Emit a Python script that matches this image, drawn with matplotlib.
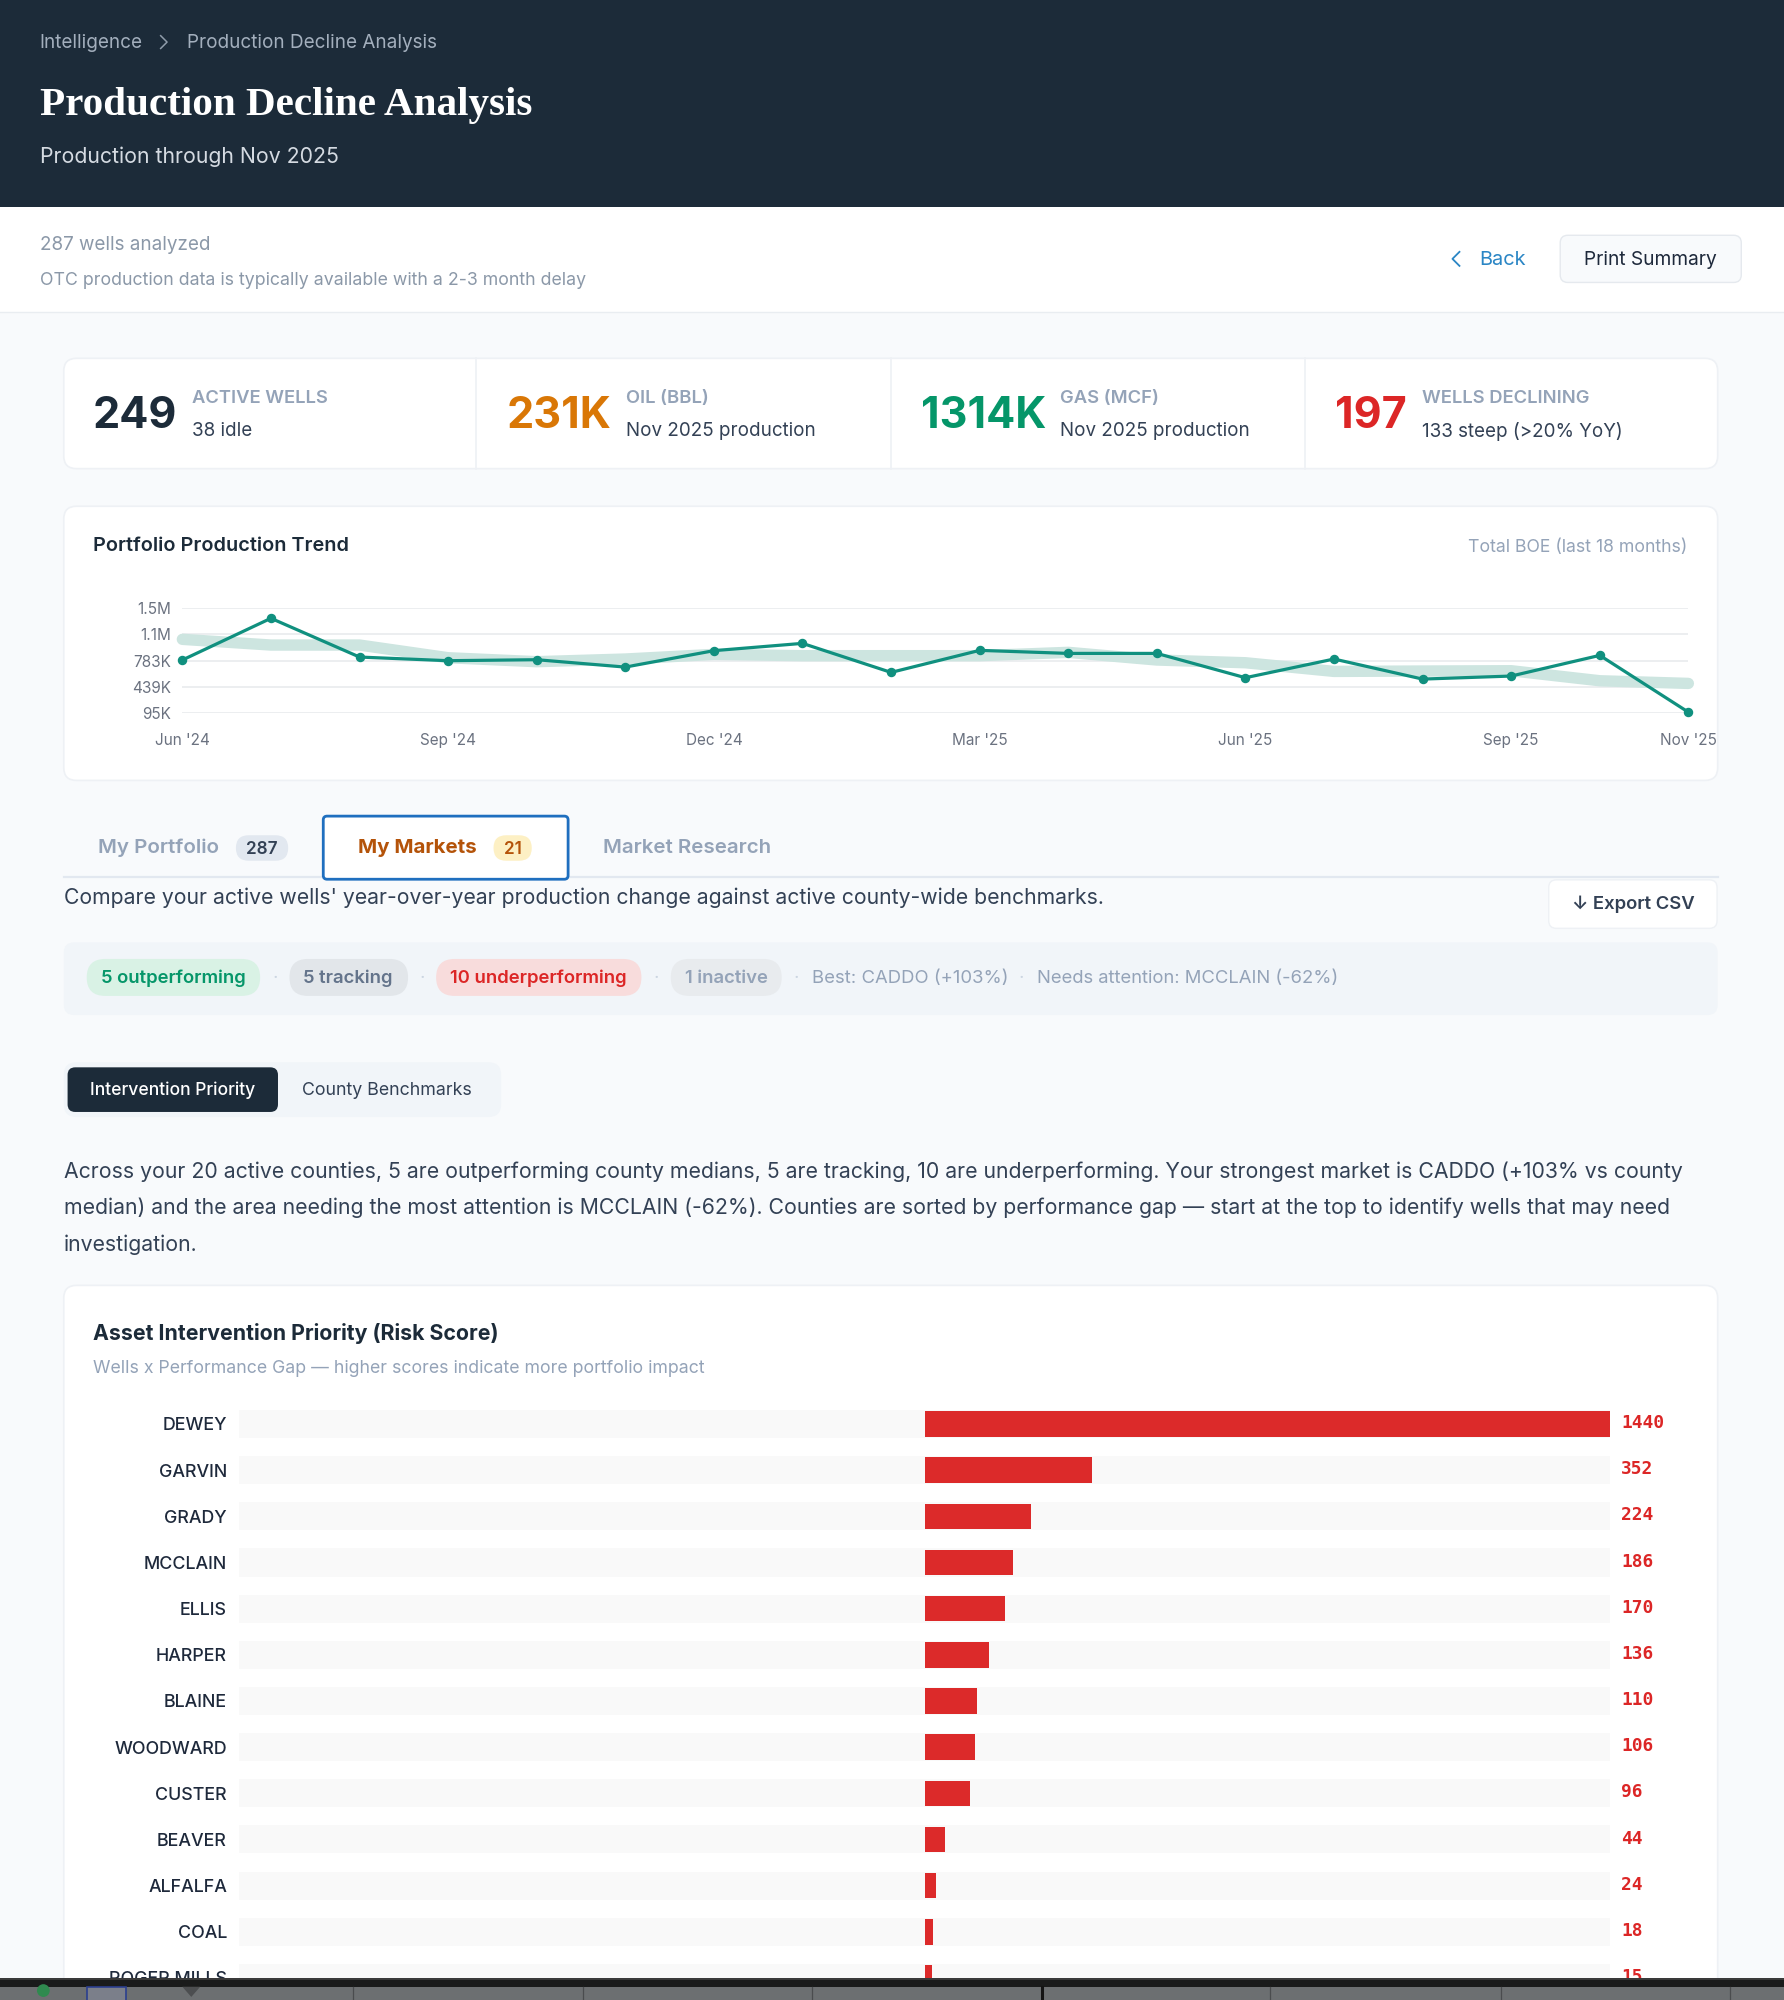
import matplotlib
matplotlib.use("Agg")
import matplotlib.pyplot as plt
from matplotlib.patches import FancyBboxPatch, Rectangle, Polygon, Circle

W, H = 1399.0, 1568.4
S = 1784 / W

months = ["Jun '24", "Jul '24", "Aug '24", "Sep '24", "Oct '24", "Nov '24", "Dec '24", "Jan '25", "Feb '25",
          "Mar '25", "Apr '25", "May '25", "Jun '25", "Jul '25", "Aug '25", "Sep '25", "Oct '25", "Nov '25"]
total_boe = [790, 1339, 829, 781, 794, 697, 913, 1009, 627, 917, 877, 877, 557, 803, 539, 579, 851, 104]
trend_boe = [1062, 987, 987, 820, 768, 803, 864, 847, 847, 847, 891, 790, 754, 640, 645, 649, 517, 482]
y_tick_vals = [95, 439, 783, 1127, 1471]
y_tick_labels = ["95K", "439K", "783K", "1.1M", "1.5M"]
x_tick_idx = [0, 3, 6, 9, 12, 15, 17]

counties = ["DEWEY", "GARVIN", "GRADY", "MCCLAIN", "ELLIS", "HARPER", "BLAINE", "WOODWARD",
            "CUSTER", "BEAVER", "ALFALFA", "COAL", "ROGER MILLS"]
risk = [1440, 352, 224, 186, 170, 136, 110, 106, 96, 44, 24, 18, 15]

kpi_values = ["249", "231K", "1314K", "197"]
kpi_labels = ["ACTIVE WELLS", "OIL (BBL)", "GAS (MCF)", "WELLS DECLINING"]
kpi_notes = ["38 idle", "Nov 2025 production", "Nov 2025 production", "133 steep (>20% YoY)"]

plt.rcParams['font.family'] = ['Inter', 'DejaVu Sans']
fig = plt.figure(figsize=(17.84, 20.0), dpi=100, facecolor="#f8fafc")


def axes_at(x0, y0, x1, y1, **kw):
    return fig.add_axes([x0 / W, 1 - y1 / H, (x1 - x0) / W, (y1 - y0) / H], **kw)


base = axes_at(0, 0, W, H)
base.set_xlim(0, W)
base.set_ylim(H, 0)
base.axis("off")
base.set_zorder(0)


def fs(px):
    return px * S * 0.72


def T(x, y, s, px, color="#1e293b", weight="normal", ha="left", ax=base, family=None, zorder=5):
    kw = {}
    if family:
        kw["family"] = family
    return ax.text(x, y + 2, s, fontsize=fs(px), color=color, fontweight=weight, ha=ha, va="center", zorder=zorder, **kw)


def RR(x, y, w, h, r, fc, ec="none", lw=0.0, ax=base, zorder=1):
    p = FancyBboxPatch((x + r, y + r), w - 2 * r, h - 2 * r, boxstyle=f"round,pad={r},rounding_size={r}",
                       fc=fc, ec=ec, lw=lw, zorder=zorder)
    ax.add_patch(p)
    return p


# header
base.add_patch(Rectangle((0, 0), W, 162.5, fc="#1c2b39", ec="none"))
T(31, 32, "Intelligence", 14.85, "#a3afbd")
base.plot([126, 131, 126], [28, 33, 38], color="#8f9caa", lw=1.1, zorder=5)
T(146.5, 32, "Production Decline Analysis", 14.85, "#a3afbd")
T(31, 81, "Production Decline Analysis", 32.3, "#ffffff", "bold", family="Liberation Serif")
T(31, 121, "Production through Nov 2025", 16.65, "#d5dbe2")

# subheader
base.add_patch(Rectangle((0, 162.5), W, 82, fc="#ffffff", ec="none"))
base.plot([0, W], [244.5, 244.5], color="#e9edf1", lw=1.0)
T(31, 190, "287 wells analyzed", 14.8, "#8b98a8")
T(31, 218, "OTC production data is typically available with a 2-3 month delay", 13.9, "#8b98a8")
base.plot([1144.5, 1139, 1144.5], [197.5, 203, 208.5], color="#2b86c5", lw=1.3, zorder=5)
T(1160, 202, "Back", 15.7, "#2b86c5")
RR(1223.5, 184.5, 142, 37, 6, "#f8fafc", "#e5e9ee", 1.0)
T(1294.5, 202, "Print Summary", 15, "#1e293b", ha="center")

# KPI card
RR(50, 281, 1297, 86.5, 10, "#ffffff", "#eef1f5", 1.2)
for xd in [373.5, 698.5, 1023]:
    base.plot([xd, xd], [281, 367.5], color="#eef1f5", lw=1.2, zorder=2)
kpi_x = [73, 397.5, 722, 1047]
kpi_lx = [150.5, 491, 831, 1115]
kpi_col = ["#1c2b39", "#d97706", "#059669", "#dc2626"]
for vx, lx, c, v, l, n in zip(kpi_x, kpi_lx, kpi_col, kpi_values, kpi_labels, kpi_notes):
    T(vx, 325, v, 33.8, c, "bold")
    T(lx, 310.5, l, 14.45, "#94a3b8", "semibold")
    T(lx, 336, n, 14.75, "#334155")

# trend card
RR(50, 397, 1297, 215, 10, "#ffffff", "#eef1f5", 1.2)
T(73, 426, "Portfolio Production Trend", 15.6, "#1c2b39", "semibold")
T(1323, 427, "Total BOE (last 18 months)", 13.85, "#94a3b8", ha="right")

ax = axes_at(143, 477, 1324, 559)
ax.patch.set_alpha(0)
ax.set_zorder(2)
xs = list(range(len(months)))
ax.set_xlim(0, len(months) - 1)
ax.set_ylim(95, 1471)
for sp in ax.spines.values():
    sp.set_visible(False)
ax.set_yticks(y_tick_vals)
ax.set_yticklabels(y_tick_labels)
ax.set_xticks(x_tick_idx)
ax.set_xticklabels([months[i] for i in x_tick_idx])
ax.tick_params(axis="both", length=0, labelsize=fs(12), labelcolor="#6b7280")
ax.tick_params(axis="y", pad=fs(9))
ax.tick_params(axis="x", pad=fs(16))
ax.grid(axis="y", color="#e9ebee", lw=1.2)
ax.set_axisbelow(True)
ax.plot(xs, trend_boe, color="#cde5e0", lw=8.2, solid_capstyle="round", solid_joinstyle="round", clip_on=False, zorder=2)
ax.plot(xs, total_boe, color="#10907f", lw=2.3, marker="o", ms=5.8, clip_on=False, zorder=3)

# tabs
base.plot([50, 1347], [688, 688], color="#e2e8f0", lw=1.6, zorder=1)
T(77, 663, "My Portfolio", 16.1, "#94a3b8", "semibold")
RR(185, 655, 41, 20, 10, "#e2e8f0")
T(205.5, 664, "287", 13.5, "#334155", "semibold", ha="center")
RR(253.5, 640, 192, 49.5, 3, "#ffffff", "#1f6fbf", 2.0, zorder=2)
T(281, 663, "My Markets", 16.1, "#b45309", "bold")
RR(387, 655, 30, 20, 10, "#fdf0c4", zorder=3)
T(402, 664, "21", 13.5, "#b45309", "semibold", ha="center")
T(473, 663, "Market Research", 16.1, "#94a3b8", "semibold")

T(50, 702, "Compare your active wells' year-over-year production change against active county-wide benchmarks.", 16.62, "#334155")
RR(1214.5, 690, 132, 38, 6, "#ffffff", "#eef1f5", 1.0)
T(1280.5, 707.5, "↓ Export CSV", 14.5, "#334155", "semibold", ha="center", family=["Inter", "DejaVu Sans"])

# summary strip
RR(50, 739, 1297, 57, 8, "#f1f5f9")
RR(68, 752, 136, 29, 14.5, "#d9f2e5")
T(136, 765.5, "5 outperforming", 14.5, "#059669", "semibold", ha="center")
RR(227, 752, 93, 29, 14.5, "#e2e6ea")
T(273, 765.5, "5 tracking", 14.5, "#64748b", "semibold", ha="center")
RR(342, 752, 161, 29, 14.5, "#f8dcdc")
T(422.5, 765.5, "10 underperforming", 14.5, "#dc2626", "semibold", ha="center")
RR(526, 752, 87, 29, 14.5, "#e8ebee")
T(569.5, 765.5, "1 inactive", 14.5, "#94a3b8", "semibold", ha="center")
for xd in [215.5, 331, 515, 624.5, 801]:
    T(xd, 765.5, "·", 14.5, "#cbd5e1", ha="center")
T(636.5, 765.5, "Best: CADDO (+103%)", 14.5, "#94a3b8")
T(813, 765.5, "Needs attention: MCCLAIN (-62%)", 14.45, "#94a3b8")

# toggle
RR(50, 833, 343, 43, 10, "#f1f5f9")
RR(53, 837, 165, 35, 6, "#1c2b39", zorder=2)
T(135.5, 853, "Intervention Priority", 13.75, "#ffffff", "medium", ha="center")
T(303.5, 853, "County Benchmarks", 13.95, "#334155", ha="center")

# narrative
lines = ["Across your 20 active counties, 5 are outperforming county medians, 5 are tracking, 10 are underperforming. Your strongest market is CADDO (+103% vs county",
         "median) and the area needing the most attention is MCCLAIN (-62%). Counties are sorted by performance gap — start at the top to identify wells that may need",
         "investigation."]
for yy, l in zip([917, 945.5, 974], lines):
    T(50, yy, l, 16.66, "#334155")

# bar card
RR(50, 1008, 1297, 620, 10, "#ffffff", "#eef1f5", 1.2)
T(73, 1044, "Asset Intervention Priority (Risk Score)", 16.7, "#1c2b39", "bold")
T(73, 1071, "Wells x Performance Gap — higher scores indicate more portfolio impact", 13.9, "#94a3b8")

row = 36.2
b = axes_at(187.5, 1098, 1262.5, 1552)
b.patch.set_alpha(0)
b.set_zorder(2)
rows = list(range(len(counties)))
b.set_xlim(-max(risk), max(risk))
b.set_ylim((1552 - 1116.7) / row, -(1116.7 - 1098) / row)
for sp in b.spines.values():
    sp.set_visible(False)
b.barh(rows, [2 * max(risk)] * len(rows), left=-max(risk), height=22 / row, color="#f9f9f9", zorder=1)
b.barh(rows, risk, height=20 / row, color="#dc2a2a", zorder=2)
b.set_xticks([])
b.set_yticks(rows)
b.set_yticklabels(counties)
b.tick_params(axis="y", length=0, pad=fs(9.5), labelsize=fs(14), labelcolor="#1e293b")
for lab in b.get_yticklabels():
    lab.set_fontweight("medium")
for r, v in zip(rows, risk):
    b.annotate(str(v), xy=(max(risk), r), xytext=(fs(9), 0.6), textcoords="offset points", va="center", ha="left",
               fontsize=fs(14), color="#dc2626", fontweight="bold", family="DejaVu Sans Mono", annotation_clip=False)

# window strip along the bottom
top = axes_at(0, 0, W, H)
top.set_xlim(0, W)
top.set_ylim(H, 0)
top.axis("off")
top.patch.set_alpha(0)
top.set_zorder(10)
top.add_patch(Rectangle((0, 1551.5), W, 3, fc="#3a3a3a", ec="none"))
top.add_patch(Rectangle((0, 1553), W, 5, fc="#1a1b1b", ec="none"))
top.add_patch(Rectangle((0, 1558), W, 11, fc="#6c6f71", ec="none"))
for xd in [277, 457, 637, 996, 1177, 1357]:
    top.plot([xd, xd], [1558, H], color="#4a4c4e", lw=0.9)
top.plot([817, 817], [1558, H], color="#141414", lw=2.2)
top.add_patch(Rectangle((68.5, 1558), 30, 11, fc="#7b7f8a", ec="#2b3f8f", lw=1.2))
top.add_patch(Polygon([[143, 1558], [157, 1558], [150, 1566]], fc="#4c4e50", ec="none"))
top.add_patch(Circle((34, 1561), 5, fc="#2f8a4f", ec="none"))

fig.savefig("out.png", dpi=100, facecolor=fig.get_facecolor())
